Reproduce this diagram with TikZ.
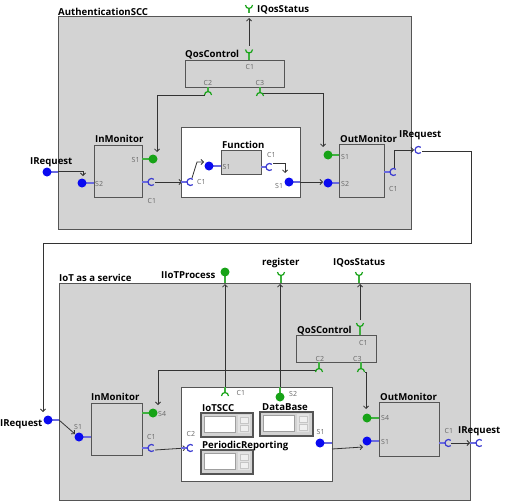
\documentclass[tikz,border=0pt]{standalone}
\usepackage{fontspec}
\setmainfont{Open Sans}
\usetikzlibrary{arrows.meta,fit}
\definecolor{boxfill}{HTML}{D3D3D3}
\definecolor{boxline}{HTML}{555555}
\definecolor{connline}{HTML}{333333}
\definecolor{portblue}{HTML}{0A0AF0}
\definecolor{cupblue}{HTML}{3A3AD0}
\definecolor{stemblue}{HTML}{6A6AE0}
\definecolor{portgreen}{HTML}{17A317}
\definecolor{stemgreen}{HTML}{3FB03F}
\definecolor{labelgray}{HTML}{666666}
\newcommand\mytitlefont{\fontsize{9.6}{11}\selectfont\bfseries}
\newcommand\myportfont{\fontsize{7}{8}\selectfont}
\tikzset{
  outerbox/.style={draw=boxline, fill=boxfill, line width=1pt, inner sep=0pt},
  compbox/.style={draw=boxline, fill=boxfill, line width=1pt, inner sep=0pt},
  contbox/.style={draw=boxline, fill=white, line width=1pt, inner sep=0pt},
  spinframe/.style={draw=boxline, fill=boxfill, line width=1.3pt, inner sep=0pt},
  ttl/.style={font=\mytitlefont, anchor=base west, inner sep=0pt},
  plbl/.style={font=\myportfont, text=labelgray, anchor=base west, inner sep=0pt},
  conn/.style={draw=connline, line width=0.8pt, -{Straight Barb[length=2.5pt,width=5pt]}},
  plainconn/.style={draw=connline, line width=0.8pt},
  bdot/.style={circle, fill=portblue, inner sep=0pt, minimum size=9pt},
  gdot/.style={circle, fill=portgreen, inner sep=0pt, minimum size=9pt},
  bstem/.style={draw=stemblue, line width=1.2pt},
  gstem/.style={draw=stemgreen, line width=1.2pt},
  bcup/.style={draw=cupblue, line width=1.2pt},
  gcup/.style={draw=portgreen, line width=1.2pt},
  cupC/.pic={\path[pic actions] (50:3.5) arc (50:310:3.5);},
  cupU/.pic={\path[pic actions] (180:3.5) arc (180:0:3.5);},
  cupN/.pic={\path[pic actions] (180:3.5) arc (180:360:3.5);},
  spin/.pic={
    \draw[draw=gray!75, fill=white, line width=0.6pt] (3.5,4) rectangle (35,20);
    \fill[gray!22] (37.5,3) rectangle (50,21);
    \draw[draw=gray!45, fill=gray!12, line width=0.4pt] (40,5) rectangle (48,11);
    \draw[draw=gray!45, fill=gray!12, line width=0.4pt] (40,13) rectangle (48,19);
  }
}
\begin{document}
\begin{tikzpicture}[x=1pt,y=-1pt]
\useasboundingbox (0,0) rectangle (505,503);

% ================= top diagram =================
\node[outerbox, fit={(58,17) (411,229)}] (auth) {};
\node[ttl] (authlbl) at (58,15.5) {AuthenticationSCC};
\node[compbox, fit={(185,60) (284,87)}] (qosa) {};
\node[ttl] (qosalbl) at (185,57.5) {QosControl};
\node[compbox, fit={(94,145) (142,197)}] (inma) {};
\node[ttl] (inmalbl) at (95,142.5) {InMonitor};
\node[contbox, fit={(181,127) (300,197)}] (conta) {};
\node[compbox, fit={(221,150) (261,174)}] (funca) {};
\node[ttl] (funcalbl) at (222,148.5) {Function};
\node[compbox, fit={(339,144) (384,197)}] (outa) {};
\node[ttl] (outalbl) at (340,142.5) {OutMonitor};

% port labels (top)
\node[ttl] (iqosalbl) at (257,12.5) {IQosStatus};
\node[plbl] (qosac1) at (245.5,69) {C1};
\node[plbl] (qosac2) at (203.5,85) {C2};
\node[plbl] (qosac3) at (255.5,85) {C3};
\node[plbl] (inmas1) at (131.5,162) {S1};
\node[plbl] (inmas2) at (95,186) {S2};
\node[plbl] (inmac1) at (147.5,203) {C1};
\node[ttl] (ireqalbl) at (30,164) {IRequest};
\node[plbl] (funcas1) at (222.5,169) {S1};
\node[plbl] (funcac1) at (267,157) {C1};
\node[plbl] (contac1) at (197,184.5) {C1};
\node[plbl] (contas1) at (275,188) {S1};
\node[plbl] (outas1) at (341,159) {S1};
\node[plbl] (outas2) at (341,186) {S2};
\node[plbl] (outac1) at (389,191) {C1};
\node[ttl] (ireqblbl) at (399,137.5) {IRequest};

% port anchor coordinates (top)
\coordinate (iqosa) at (249,18);
\coordinate (qosaC1) at (249,46);
\coordinate (qosaC2) at (204.5,95);
\coordinate (qosaC3) at (262,93);
\coordinate (inmaS1t) at (157,152);
\coordinate (outaS1t) at (323,147);
\coordinate (ireqaE) at (58,171);
\coordinate (inmaS2t) at (83,176);
\coordinate (inmaC1) at (155,182);
\coordinate (contaC1) at (182,182);
\coordinate (contaC1i) at (192,178);
\coordinate (contaBend) at (197,162);
\coordinate (funcaS1) at (204,162);
\coordinate (funcaC1) at (273,163);
\coordinate (contaS1t) at (285,173);
\coordinate (contaS1) at (300,182);
\coordinate (outaS2) at (323,182);
\coordinate (outaC1) at (394,168);
\coordinate (ireqbin) at (414,150);
\coordinate (ireqbout) at (422,151);
\coordinate (loopR) at (471,243);
\coordinate (ireqcin) at (43,412);

% connectors (top)
\draw[conn] (qosaC1) -- (iqosa);
\draw[conn] (qosaC2) -| (inmaS1t);
\draw[conn] (qosaC3) -| (outaS1t);
\draw[conn] (ireqaE) -| (inmaS2t);
\draw[conn] (inmaC1) -- (contaC1);
\draw[conn] (contaC1i) -- (contaBend) -- (funcaS1);
\draw[conn] (funcaC1) -| (contaS1t);
\draw[conn] (contaS1) -- (outaS2);
\draw[conn] (outaC1) |- (ireqbin);
\draw[conn] (ireqbout) -| (loopR) -| (ireqcin);

% ports (top)
\draw[gstem] (249,8.5) -- (249,13);
\pic[gcup] at (249,5) {cupU};
\draw[gstem] (249,53) -- (249,60);
\pic[gcup] at (249,49.5) {cupU};
\draw[gstem] (208,87) -- (208,91.5);
\pic[gcup] at (208,95) {cupN};
\draw[gstem] (260,87) -- (260,92.5);
\pic[gcup] at (260,96) {cupN};
\draw[gstem] (142,159) -- (150,159);
\node[gdot] (inmaS1) at (153,159) {};
\draw[bstem] (85,183) -- (94,183);
\node[bdot] (inmaS2) at (82,183) {};
\draw[bstem] (142,182) -- (148,182);
\pic[bcup] at (151.5,182) {cupC};
\draw[bstem] (50,172) -- (58,172);
\node[bdot] (ireqa) at (47,172) {};
\draw[bstem] (181,182) -- (187,182);
\pic[bcup] at (190.5,182) {cupC};
\draw[bstem] (212,166) -- (221,166);
\node[bdot] (funcaS1d) at (209,166) {};
\draw[bstem] (261,167) -- (266,167);
\pic[bcup] at (269.5,167) {cupC};
\draw[bstem] (292,182) -- (300,182);
\node[bdot] (contaS1d) at (289,182) {};
\draw[gstem] (331,155) -- (339,155);
\node[gdot] (outaS1d) at (328,155) {};
\draw[bstem] (331,183) -- (339,183);
\node[bdot] (outaS2d) at (328,183) {};
\draw[bstem] (384,172) -- (390,172);
\pic[bcup] at (393.5,172) {cupC};
\pic[bcup] at (418.5,150) {cupC};

% ================= bottom diagram =================
\node[outerbox, fit={(59,283) (470,500)}] (iot) {};
\node[ttl] (iotlbl) at (59,281.5) {IoT as a service};
\node[compbox, fit={(296,335) (376,362)}] (qosb) {};
\node[ttl] (qosblbl) at (297,333) {QoSControl};
\node[compbox, fit={(91,403) (142,455)}] (inmb) {};
\node[ttl] (inmblbl) at (91,400.5) {InMonitor};
\node[contbox, fit={(181,387) (332,481)}] (contb) {};
\node[compbox, fit={(379,402) (439,456)}] (outb) {};
\node[ttl] (outblbl) at (380,400.5) {OutMonitor};
\node[spinframe, fit={(201,413) (253,437)}] (iotscc) {};
\pic at (iotscc.north west) {spin};
\node[ttl] (iotscclbl) at (202,411.5) {IoTSCC};
\node[spinframe, fit={(260,412) (313,436)}] (db) {};
\pic at (db.north west) {spin};
\node[ttl] (dblbl) at (262,410.5) {DataBase};
\node[spinframe, fit={(201,450) (253,474)}] (pr) {};
\pic at (pr.north west) {spin};
\node[ttl] (prlbl) at (202,448) {PeriodicReporting};

% port labels (bottom)
\node[ttl] (iiotlbl) at (161,278.5) {IIoTProcess};
\node[ttl] (reglbl) at (262,265) {register};
\node[ttl] (iqosblbl) at (333,265) {IQosStatus};
\node[plbl] (qosbc1) at (359,345) {C1};
\node[plbl] (qosbc2) at (315.5,361) {C2};
\node[plbl] (qosbc3) at (353,361) {C3};
\node[plbl] (inmbs4) at (158,416) {S4};
\node[plbl] (inmbs1) at (74,429) {S1};
\node[plbl] (inmbc1) at (147,439) {C1};
\node[ttl] (ireqclbl) at (0,426) {IRequest};
\node[plbl] (contbc1) at (236.5,395) {C1};
\node[plbl] (contbc2) at (186.5,436) {C2};
\node[plbl] (contbs2) at (289,396) {S2};
\node[plbl] (contbs1) at (316.5,434) {S1};
\node[plbl] (outbs4) at (381,420.5) {S4};
\node[plbl] (outbs1) at (381,444) {S1};
\node[plbl] (outbc1) at (444.5,433) {C1};
\node[ttl] (ireqdlbl) at (458,433) {IRequest};

% port anchor coordinates (bottom)
\coordinate (iiotT) at (225,284);
\coordinate (contbC1) at (225,387);
\coordinate (regT) at (280,284);
\coordinate (contbS2) at (280,387);
\coordinate (iqosbT) at (360,284);
\coordinate (qosbC1) at (360,320);
\coordinate (qosbC2) at (315.5,370);
\coordinate (inmbS4t) at (158,405);
\coordinate (qosbC3) at (365,372);
\coordinate (outbS4t) at (366,409);
\coordinate (ireqcE) at (59,420);
\coordinate (inmbS1t) at (75,434);
\coordinate (inmbC1) at (155,450);
\coordinate (contbC2) at (186,448);
\coordinate (contbS1) at (332,449);
\coordinate (outbS1t) at (363,447);
\coordinate (outbC1) at (451,443);
\coordinate (ireqdin) at (470,443);

% connectors (bottom)
\draw[conn] (contbC1) -- (iiotT);
\draw[conn] (contbS2) -- (regT);
\draw[conn] (qosbC1) -- (iqosbT);
\draw[conn] (qosbC2) -| (inmbS4t);
\draw[conn] (qosbC3) -| (outbS4t);
\draw[conn] (ireqcE) -- (inmbS1t);
\draw[conn] (inmbC1) -- (contbC2);
\draw[conn] (contbS1) -- (outbS1t);
\draw[conn] (outbC1) -- (ireqdin);

% ports (bottom)
\draw[gstem] (225,276) -- (225,283);
\node[gdot] (iiot) at (225,272) {};
\draw[gstem] (281,275.5) -- (281,283);
\pic[gcup] at (281,272) {cupU};
\draw[gstem] (359,275.5) -- (359,283);
\pic[gcup] at (359,272) {cupU};
\draw[gstem] (360,326.5) -- (360,335);
\pic[gcup] at (360,323) {cupU};
\draw[gstem] (319,362) -- (319,368.5);
\pic[gcup] at (319,372) {cupN};
\draw[gstem] (361,362) -- (361,368.5);
\pic[gcup] at (361,372) {cupN};
\draw[gstem] (225,387) -- (225,392.5);
\pic[gcup] at (225,396) {cupN};
\draw[gstem] (280,387) -- (280,394);
\node[gdot] (contbS2d) at (280,397) {};
\draw[gstem] (142,413) -- (150,413);
\node[gdot] (inmbS4d) at (153,413) {};
\draw[bstem] (82,437) -- (91,437);
\node[bdot] (inmbS1d) at (79,437) {};
\draw[bstem] (142,448) -- (148,448);
\pic[bcup] at (151.5,448) {cupC};
\draw[bstem] (51,420) -- (59,420);
\node[bdot] (ireqc) at (48,420) {};
\draw[bstem] (181,448) -- (187,448);
\pic[bcup] at (190.5,448) {cupC};
\draw[bstem] (323,443) -- (332,443);
\node[bdot] (contbS1d) at (320,443) {};
\draw[gstem] (370,418) -- (379,418);
\node[gdot] (outbS4d) at (367,418) {};
\draw[bstem] (370,441) -- (379,441);
\node[bdot] (outbS1d) at (367,441) {};
\draw[bstem] (439,443) -- (445,443);
\pic[bcup] at (448.5,443) {cupC};
\draw[bstem] (470,443) -- (476,443);
\pic[bcup] at (479.5,443) {cupC};
\end{tikzpicture}
\end{document}
